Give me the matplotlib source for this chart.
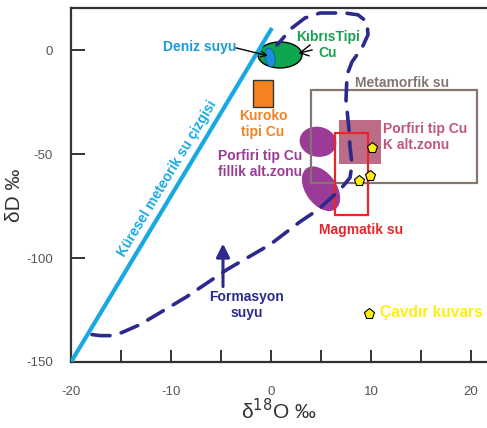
import numpy as np
import matplotlib
matplotlib.use("Agg")
import matplotlib.pyplot as plt
from matplotlib.patches import Rectangle, Ellipse
import matplotlib.transforms as mtransforms

plt.rcParams['font.family'] = ['Liberation Sans', 'DejaVu Sans']
plt.rcParams['axes.unicode_minus'] = False

# ---- data (delta18O, deltaD in permil) ----
gmwl_x = [-20.0, 0.1]
gmwl_y = [-150.0, 10.8]

formation_x = [-17.9, -17.1, -15.9, -14.9, -13.1, -8.4, -4.4, -0.1, 2.9, 4.7,
               6.9, 7.9, 8.1, 7.9, 7.8, 7.5, 7.6, 8.1, 9.1, 9.7, 9.6, 8.7,
               7.4, 4.9, 3.4, 2.1, 0.6]
formation_y = [-136.8, -137.3, -137.3, -135.8, -132.0, -118.5, -105.5, -93.5,
               -82.5, -76.7, -67.1, -61.3, -55.0, -46.4, -38.2, -23.8, -11.8,
               -5.5, 1.2, 7.5, 13.7, 17.1, 18.0, 18.0, 15.6, 10.8, 2.6]

cavdir_x = [10.1, 9.9, 8.8]
cavdir_y = [-46.9, -60.3, -62.7]
legend_x = [9.8]
legend_y = [-126.8]

# boxes: (x0, y0, width, height)
metamorphic_box = (4.0, -63.6, 16.6, 44.6)
magmatic_box = (6.4, -79.1, 3.3, 39.4)
porphyry_k_box = (6.8, -54.6, 4.2, 21.2)
kuroko_box = (-1.8, -27.2, 2.0, 13.0)

seawater = (-0.1, -3.4)
cyprus = (0.9, -2.2)
porphyry_vein_1 = (4.7, -44.0)
porphyry_vein_2 = (5.0, -66.6)

xticks_major = [-20, -10, 0, 10, 20]
xticks_minor = [-15, -5, 5, 15]
yticks = [-150, -100, -50, 0]

# ---- colours ----
C_CYAN = '#19a9e2'
C_NAVY = '#2b2a8c'
C_GREEN = '#0ea64e'
C_GREEN_T = '#16a34f'
C_ORANGE = '#f5821f'
C_META = '#857570'
C_PINK = '#b65c7a'
C_PINK_T = '#c2557a'
C_PURPLE = '#9b3b97'
C_RED = '#e8262a'
C_YELLOW = '#ffee10'

fig = plt.figure(figsize=(4.87, 4.28), dpi=100)
ax = fig.add_axes([71/487, 66/428, 1 - 71/487, 354/428])
ax.set_xlim(-20, 21.6)
ax.set_ylim(-150, 20.4)


def pix_ellipse(center, w_px, h_px, angle, **kw):
    trans = fig.dpi_scale_trans + mtransforms.ScaledTranslation(center[0], center[1], ax.transData)
    e = Ellipse((0, 0), w_px / 100, h_px / 100, angle=angle, transform=trans, **kw)
    ax.add_patch(e)
    return e

# boxes
ax.add_patch(Rectangle(porphyry_k_box[:2], porphyry_k_box[2], porphyry_k_box[3],
                       facecolor=C_PINK, edgecolor='none', alpha=0.9, zorder=2))
pix_ellipse(porphyry_vein_1, 37, 30, -10, facecolor=C_PURPLE, edgecolor='none', zorder=2)
pix_ellipse(porphyry_vein_2, 50, 31, -55, facecolor=C_PURPLE, edgecolor='none', zorder=2)
ax.add_patch(Rectangle(metamorphic_box[:2], metamorphic_box[2], metamorphic_box[3],
                       facecolor='none', edgecolor=C_META, lw=1.6, zorder=3))
ax.add_patch(Rectangle(magmatic_box[:2], magmatic_box[2], magmatic_box[3],
                       facecolor='none', edgecolor=C_RED, lw=1.6, zorder=4))
ax.add_patch(Rectangle(kuroko_box[:2], kuroko_box[2], kuroko_box[3],
                       facecolor=C_ORANGE, edgecolor='#333333', lw=1.0, zorder=3))

# Cyprus type and sea water
pix_ellipse(cyprus, 44, 26, 0, facecolor=C_GREEN, edgecolor='black', lw=1.0, zorder=2)
pix_ellipse(seawater, 10, 19, 10, facecolor='#1c8fd8', edgecolor='#0d5e9a', lw=0.6, zorder=2.5)

# small feather marks on the right of the ellipse
for dx, dy in [(3.9, 2.6), (4.1, 0.2), (3.8, -2.6)]:
    ax.plot([2.9, dx], [-1.2, dy], color='black', lw=1.0, zorder=3)

# meteoric water line
ax.plot(gmwl_x, gmwl_y, color=C_CYAN, lw=3, solid_capstyle='butt', zorder=3)

# formation water field
ax.plot(formation_x, formation_y, color=C_NAVY, lw=2.6, dashes=(5, 3.2),
        dash_capstyle='round', zorder=5)

# Cavdir quartz points
ax.plot(cavdir_x, cavdir_y, linestyle='none', marker='p', markersize=8,
        markerfacecolor=C_YELLOW, markeredgecolor='black', markeredgewidth=0.8, zorder=6)
ax.plot(legend_x, legend_y, linestyle='none', marker='p', markersize=8,
        markerfacecolor=C_YELLOW, markeredgecolor='black', markeredgewidth=0.8, zorder=6)

# arrows
ax.annotate('', xy=(-0.3, -2.6), xytext=(-3.5, 1.2),
            arrowprops=dict(arrowstyle='->', color='black', lw=1.0, shrinkA=0, shrinkB=0), zorder=4)
ax.annotate('', xy=(-4.8, -93.0), xytext=(-4.8, -113.7),
            arrowprops=dict(arrowstyle='-|>', color=C_NAVY, lw=2.2, mutation_scale=20,
                            shrinkA=0, shrinkB=0), zorder=5)

# labels
fs = 10
ls = 1.2
ax.text(-7.1, 1.7, 'Deniz suyu', color='#1e9ad6', fontsize=fs, fontweight='bold',
        ha='center', va='center')
ax.text(5.7, 2.7, 'KıbrısTipi\nCu', color=C_GREEN_T, fontsize=fs, fontweight='bold',
        ha='center', va='center', linespacing=ls)
ax.text(-0.8, -35.6, 'Kuroko\ntipi Cu', color=C_ORANGE, fontsize=fs, fontweight='bold',
        ha='center', va='center', linespacing=ls)
ax.text(13.15, -15.6, 'Metamorfik su', color=C_META, fontsize=fs, fontweight='bold',
        ha='center', va='center')
ax.text(11.2, -41.8, 'Porfiri tip Cu\nK alt.zonu', color=C_PINK_T, fontsize=fs,
        fontweight='bold', ha='left', va='center', linespacing=ls)
ax.text(-1.1, -54.6, 'Porfiri tip Cu\nfillik alt.zonu', color=C_PURPLE, fontsize=fs,
        fontweight='bold', ha='center', va='center', linespacing=ls)
ax.text(9.05, -86.3, 'Magmatik su', color=C_RED, fontsize=fs, fontweight='bold',
        ha='center', va='center')
ax.text(-2.45, -122.4, 'Formasyon\nsuyu', color=C_NAVY, fontsize=fs, fontweight='bold',
        ha='center', va='center', linespacing=ls)
ax.text(10.9, -126.0, 'Çavdır kuvars', color=C_YELLOW, fontsize=11.2, fontweight='bold',
        ha='left', va='center')

# rotated line label
fig.canvas.draw()
p1 = ax.transData.transform((gmwl_x[0], gmwl_y[0]))
p2 = ax.transData.transform((gmwl_x[1], gmwl_y[1]))
ang = np.degrees(np.arctan2(p2[1] - p1[1], p2[0] - p1[0]))
ax.text(-10.4, -61.5, 'Küresel meteorik su çizgisi', color=C_CYAN, fontsize=10,
        fontweight='bold', rotation=ang, rotation_mode='anchor', ha='center', va='center')

# axes styling
for side in ['left', 'bottom', 'top']:
    ax.spines[side].set_color('#333333')
    ax.spines[side].set_linewidth(1.6)
ax.spines['right'].set_visible(False)

ax.set_xticks(xticks_major)
ax.set_xticks(xticks_minor, minor=True)
ax.set_yticks(yticks)
ax.tick_params(axis='x', which='both', direction='in', length=9, width=1.4,
               color='#333333', pad=17, labelsize=9.5, labelcolor='#555555')
ax.tick_params(axis='y', which='both', direction='in', length=10, width=1.4,
               color='#333333', pad=13, labelsize=9.5, labelcolor='#555555')

ax.set_xlabel('δ$^{18}$O ‰', fontsize=15, color='#333333', labelpad=0)
ax.set_ylabel('δD ‰', fontsize=15, color='#333333')
ax.yaxis.set_label_coords(-0.113, 0.472)

fig.savefig('out.png', dpi=100)
